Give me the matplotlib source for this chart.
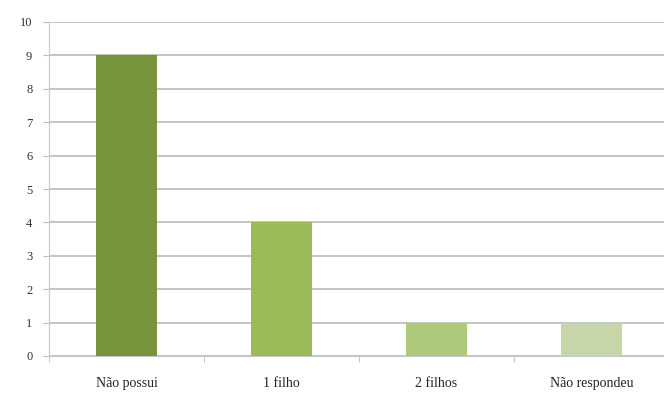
import matplotlib
matplotlib.use("Agg")
import matplotlib.pyplot as plt
import numpy as np

categorias = ["Não possui", "1 filho", "2 filhos", "Não respondeu"]
valores = [9, 4, 1, 1]
cores = ["#77933C", "#9BBB59", "#AFC97C", "#C6D6A8"]
yticks = list(range(0, 11))

plt.rcParams["font.family"] = ["Liberation Serif", "DejaVu Serif"]

fig = plt.figure(figsize=(6.64, 3.96), dpi=100)
ax = fig.add_axes([49 / 664, 40 / 396, 620 / 664, 334 / 396])

x = np.arange(len(categorias))
ax.bar(x, valores, width=0.39, color=cores, zorder=3)

ax.set_xlim(-0.5, len(categorias) - 0.5)
ax.set_ylim(0, 10)
ax.set_yticks(yticks)
ax.set_yticklabels([str(v) for v in yticks], fontsize=9, color="#333333")
ax.set_xticks(x)
ax.set_xticklabels(categorias, fontsize=10, color="#222222")
ax.set_xticks(np.arange(-0.5, len(categorias)), minor=True)

# grade horizontal cinza
ax.yaxis.grid(True, color="#b4b4b4", linewidth=1.1, zorder=0)
ax.tick_params(axis="x", which="major", length=0, pad=15)
ax.tick_params(axis="x", which="minor", length=4, color="#bbbbbb")
ax.tick_params(axis="y", length=4, color="#bbbbbb", pad=8)

for s in ["top", "right"]:
    ax.spines[s].set_visible(False)
ax.spines["left"].set_color("#c8c8c8")
ax.spines["bottom"].set_color("#c8c8c8")

fig.savefig("out.png", dpi=100)
